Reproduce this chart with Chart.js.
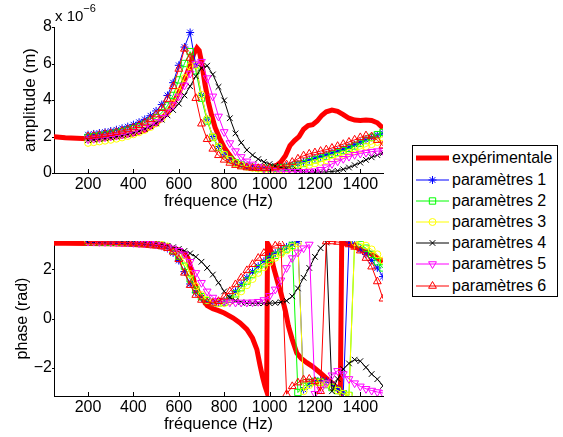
<!DOCTYPE html>
<html lang="fr">
<head>
<meta charset="UTF-8">
<title>Amplitude et phase</title>
<style>
  * { margin: 0; padding: 0; }
  body { width: 563px; height: 437px; overflow: hidden; background: #fff; font-family: "Liberation Sans", Arial, sans-serif; }
  canvas.plot { position: absolute; left: 0; }
  #amp { top: 0; }
  #phase { top: 214px; }
  #legende { position: absolute; left: 412px; top: 145px; width: 144px; height: 150px; border: 1px solid #000; background: #fff; }
  .row { position: absolute; left: 0; width: 144px; height: 20px; line-height: 20px; font-size: 16px; white-space: nowrap; }
  .row canvas { position: absolute; left: 3px; top: 0; }
  .row span { position: absolute; left: 39px; top: 0; }
</style>
</head>
<body>
<canvas id="amp" class="plot" width="400" height="215"></canvas>
<canvas id="phase" class="plot" width="400" height="224"></canvas>
<div id="legende"></div>
<script src="https://cdn.jsdelivr.net/npm/chart.js@4/dist/chart.umd.min.js"></script>
<script>
// frequences des simulations (Hz)
var freqs = [200,225,250,275,300,325,350,375,400,425,450,475,500,525,550,575,600,625,650,675,700,725,750,775,800,825,850,875,900,925,950,975,1000,1025,1050,1075,1100,1125,1150,1175,1200,1225,1250,1275,1300,1325,1350,1375,1400,1425,1450,1475,1500];
var xTicks = [200,400,600,800,1000,1200,1400];

// amplitudes en 1e-6 m
var ampP1 = [2.10,2.14,2.19,2.24,2.30,2.37,2.45,2.54,2.65,2.78,2.94,3.14,3.40,3.75,4.25,4.95,5.90,6.90,7.70,5.90,4.25,2.95,2.00,1.45,1.02,0.75,0.56,0.44,0.36,0.31,0.28,0.27,0.28,0.30,0.33,0.37,0.42,0.50,0.60,0.72,0.82,0.90,1.00,1.10,1.20,1.30,1.42,1.55,1.68,1.82,1.95,2.08,2.18];
var ampP2 = [1.95,1.99,2.03,2.08,2.13,2.19,2.26,2.34,2.43,2.54,2.67,2.83,3.03,3.30,3.68,4.25,5.10,6.00,6.65,5.60,4.10,2.85,1.95,1.40,1.00,0.74,0.56,0.44,0.36,0.31,0.28,0.26,0.26,0.27,0.29,0.32,0.37,0.44,0.52,0.62,0.72,0.82,0.92,1.02,1.12,1.23,1.35,1.48,1.62,1.78,1.95,2.10,2.22];
var ampP3 = [1.65,1.69,1.73,1.77,1.82,1.88,1.95,2.03,2.12,2.23,2.36,2.52,2.72,2.98,3.32,3.80,4.45,5.20,5.85,5.90,4.28,2.95,1.98,1.44,1.00,0.72,0.54,0.42,0.34,0.28,0.24,0.21,0.20,0.20,0.21,0.23,0.27,0.32,0.38,0.45,0.53,0.61,0.70,0.80,0.90,1.00,1.10,1.20,1.32,1.45,1.58,1.70,1.80];
var ampP4 = [1.80,1.83,1.86,1.90,1.94,1.99,2.05,2.12,2.20,2.30,2.42,2.56,2.72,2.92,3.16,3.45,3.80,4.25,4.75,5.30,5.75,5.88,5.40,4.72,3.98,3.00,2.17,1.66,1.26,0.98,0.76,0.61,0.49,0.39,0.30,0.23,0.17,0.12,0.08,0.06,0.05,0.05,0.06,0.08,0.12,0.20,0.30,0.43,0.57,0.72,0.86,0.98,1.10];
var ampP5 = [1.85,1.88,1.92,1.96,2.00,2.05,2.11,2.18,2.26,2.36,2.48,2.62,2.80,3.03,3.33,3.72,4.20,4.80,5.45,6.00,6.10,5.20,4.20,3.10,2.25,1.64,1.20,0.88,0.64,0.47,0.34,0.25,0.18,0.13,0.10,0.08,0.07,0.07,0.07,0.08,0.10,0.18,0.32,0.50,0.64,0.78,0.90,1.00,1.07,1.12,1.17,1.20,1.22];
var ampP6 = [2.00,2.04,2.08,2.13,2.18,2.24,2.31,2.39,2.49,2.61,2.76,2.95,3.20,3.55,4.05,4.75,5.70,6.80,6.30,4.10,2.70,1.85,1.32,0.97,0.72,0.55,0.43,0.35,0.30,0.27,0.26,0.26,0.27,0.30,0.36,0.46,0.60,0.78,0.95,1.05,1.12,1.20,1.28,1.37,1.47,1.58,1.70,1.82,1.95,2.05,2.00,1.80,1.50];

// phases (rad)
var phP1 = [3.12,3.12,3.11,3.11,3.10,3.10,3.09,3.08,3.07,3.06,3.04,3.02,2.98,2.93,2.84,2.66,2.35,1.90,1.40,1.05,0.85,0.72,0.66,0.65,0.70,0.85,1.10,1.38,1.65,1.90,2.12,2.32,2.50,2.65,2.78,2.90,3.00,3.12,-2.88,-2.65,-2.52,-2.50,-2.55,-2.68,-2.85,-3.02,3.10,3.02,2.80,2.60,2.35,2.05,1.70];
var phP2 = [3.12,3.12,3.11,3.11,3.10,3.10,3.09,3.08,3.08,3.07,3.05,3.03,3.00,2.96,2.89,2.75,2.52,2.12,1.60,1.15,0.88,0.72,0.65,0.63,0.66,0.78,1.00,1.25,1.52,1.78,2.02,2.22,2.40,2.56,2.70,2.82,2.96,-3.00,-2.75,-2.60,-2.55,-2.58,-2.68,-2.80,-2.92,-3.05,-3.12,3.08,3.00,2.85,2.60,2.30,2.05];
var phP3 = [3.12,3.12,3.12,3.11,3.11,3.10,3.10,3.09,3.09,3.08,3.06,3.04,3.02,2.98,2.92,2.80,2.62,2.30,1.80,1.30,0.95,0.75,0.66,0.62,0.62,0.70,0.88,1.10,1.35,1.60,1.85,2.08,2.28,2.46,2.62,2.76,2.90,3.05,-2.95,-2.70,-2.60,-2.58,-2.65,-2.78,-2.92,-3.05,-3.12,3.10,3.05,2.95,2.80,2.60,2.35];
var phP4 = [3.12,3.12,3.11,3.11,3.10,3.10,3.09,3.08,3.07,3.06,3.05,3.03,3.01,2.98,2.94,2.89,2.82,2.74,2.64,2.50,2.30,2.05,1.78,1.45,1.10,0.85,0.72,0.66,0.63,0.62,0.62,0.62,0.62,0.63,0.66,0.72,0.90,1.22,1.65,2.05,2.50,2.85,3.08,-2.95,-2.45,-2.05,-1.82,-1.67,-1.73,-1.98,-2.25,-2.46,-2.73];
var phP5 = [3.12,3.12,3.11,3.11,3.10,3.10,3.09,3.08,3.07,3.06,3.05,3.03,3.00,2.96,2.90,2.84,2.75,2.60,2.30,1.85,1.45,1.10,0.85,0.72,0.68,0.66,0.65,0.65,0.65,0.66,0.68,0.75,0.92,1.18,1.55,2.05,2.45,2.68,2.85,3.00,-3.05,-2.88,-2.62,-2.30,-2.12,-2.25,-2.45,-2.62,-2.75,-2.85,-2.92,-2.98,-3.02];
var phP6 = [3.12,3.12,3.11,3.11,3.10,3.09,3.08,3.07,3.06,3.04,3.02,2.99,2.96,2.92,2.85,2.70,2.40,1.85,1.35,0.95,0.75,0.65,0.63,0.70,0.88,1.10,1.38,1.65,1.95,2.20,2.45,2.65,2.82,2.95,3.05,-3.07,-2.75,-2.60,-2.48,-2.45,-2.55,-2.95,3.12,3.12,3.10,3.07,3.00,2.90,2.75,2.45,2.10,1.50,0.80];

// courbe experimentale
var expAmpFreq = [50,100,150,200,250,300,350,400,450,500,550,575,600,625,650,665,680,690,700,715,730,745,760,780,800,820,840,870,900,930,960,990,1010,1030,1050,1070,1090,1110,1130,1150,1170,1190,1210,1230,1250,1275,1300,1325,1350,1375,1400,1425,1450,1475,1500];
var expAmp = [1.98,1.93,1.90,1.88,1.90,1.95,2.03,2.15,2.35,2.70,3.30,3.80,4.40,5.10,5.90,6.50,6.85,6.70,6.10,4.90,3.90,3.15,2.50,1.90,1.40,1.05,0.72,0.48,0.35,0.28,0.24,0.22,0.27,0.40,0.60,0.95,1.50,1.78,2.00,2.40,2.60,2.65,2.85,3.15,3.35,3.45,3.38,3.20,3.00,2.90,2.88,2.90,2.88,2.75,2.45];
var expPhFreq = [50,100,200,300,400,450,500,550,600,625,640,655,670,685,700,725,750,775,800,840,870,900,925,944,958,970,980,987,991,1000,1017,1035,1054,1070,1083,1100,1120,1140,1164,1190,1223,1250,1282,1300,1312,1318,1330,1350,1385,1415,1443,1470,1500];
var expPh = [3.05,3.05,3.04,3.03,3.00,2.97,2.93,2.88,2.78,2.65,2.45,2.00,1.40,1.10,0.85,0.52,0.40,0.32,0.22,0.02,-0.18,-0.44,-0.80,-1.25,-1.90,-2.40,-2.75,-2.94,3.05,2.90,2.10,1.50,0.90,0.30,-0.30,-0.85,-1.40,-1.62,-1.79,-1.95,-2.20,-2.42,-2.67,-2.85,-3.00,3.10,3.05,3.00,2.86,2.75,2.65,2.48,2.30];

var series = [
    { label: 'paramètres 1', color: '#0000ff', marker: 'star', radius: 4, amp: ampP1, ph: phP1 },
    { label: 'paramètres 2', color: '#00ff00', marker: 'rect', radius: 4.5, amp: ampP2, ph: phP2 },
    { label: 'paramètres 3', color: '#ffff00', marker: 'circle', radius: 3.5, amp: ampP3, ph: phP3 },
    { label: 'paramètres 4', color: '#000000', marker: 'crossRot', radius: 4, amp: ampP4, ph: phP4 },
    { label: 'paramètres 5', color: '#ff00ff', marker: 'triangle', radius: 4.5, rotation: 180, amp: ampP5, ph: phP5 },
    { label: 'paramètres 6', color: '#ff0000', marker: 'triangle', radius: 4.5, amp: ampP6, ph: phP6 }
];

Chart.defaults.font.family = '"Liberation Sans", Arial, Helvetica, sans-serif';
Chart.defaults.color = '#000';

function pts(xs, ys) {
    return xs.map(function (x, i) { return { x: x, y: ys[i] }; });
}

function buildDatasets(key, expX, expY) {
    var sets = [{
        label: 'expérimentale', data: pts(expX, expY), borderColor: '#ff0000',
        borderWidth: 5, pointRadius: 0, order: 10
    }];
    series.forEach(function (s, i) {
        sets.push({
            label: s.label, data: pts(freqs, s[key]), borderColor: s.color, borderWidth: 1,
            pointStyle: s.marker, pointRadius: s.radius, pointRotation: s.rotation || 0,
            pointBorderColor: s.color, pointBackgroundColor: 'rgba(0,0,0,0)', pointBorderWidth: 1,
            order: 6 - i
        });
    });
    return sets;
}

// petits traits des graduations, comme matlab
var matlabTicks = {
    id: 'matlabTicks',
    afterDraw: function (chart) {
        var ctx = chart.ctx, a = chart.chartArea, x = chart.scales.x, y = chart.scales.y;
        ctx.save();
        ctx.strokeStyle = '#000';
        ctx.lineWidth = 1;
        ctx.beginPath();
        x.ticks.forEach(function (t) {
            var px = Math.round(x.getPixelForValue(t.value)) + 0.5;
            ctx.moveTo(px, a.bottom); ctx.lineTo(px, a.bottom - 4);
        });
        y.ticks.forEach(function (t) {
            var py = Math.round(y.getPixelForValue(t.value)) + 0.5;
            ctx.moveTo(a.left - 2, py); ctx.lineTo(a.left, py);
        });
        ctx.stroke();
        var exp = chart.options.plugins.matlabTicks;
        if (exp && exp.exposant) {
            ctx.fillStyle = '#000';
            ctx.textBaseline = 'alphabetic';
            ctx.font = '15px "Liberation Sans", Arial, sans-serif';
            ctx.fillText('x 10', 55, 21);
            var w = ctx.measureText('x 10').width;
            ctx.font = '11px "Liberation Sans", Arial, sans-serif';
            ctx.fillText(exp.exposant, 55 + w, 12);
        }
        ctx.restore();
    }
};

function makeOptions(cfg) {
    return {
        responsive: false,
        animation: false,
        devicePixelRatio: 1,
        layout: { padding: { top: 27, right: 17, bottom: 0, left: 0 } },
        elements: { line: { tension: 0 } },
        plugins: {
            legend: { display: false },
            tooltip: { enabled: false },
            matlabTicks: { exposant: cfg.exposant }
        },
        scales: {
            x: {
                type: 'linear', min: 50, max: 1500,
                afterBuildTicks: function (s) { s.ticks = xTicks.map(function (v) { return { value: v }; }); },
                afterFit: function (s) { s.height = 42; },
                grid: { drawOnChartArea: false, drawTicks: false },
                border: { color: '#000', width: 1 },
                ticks: { padding: 2, font: { size: 16 }, callback: function (v) { return String(v); } },
                title: { display: true, text: 'fréquence (Hz)', font: { size: 16.5 }, padding: { top: 0, bottom: 4 } }
            },
            y: {
                type: 'linear', min: cfg.min, max: cfg.max,
                afterBuildTicks: function (s) { s.ticks = cfg.ticks.map(function (v) { return { value: v }; }); },
                afterFit: function (s) { s.width = 54; },
                grid: { drawOnChartArea: false, drawTicks: false },
                border: { color: '#000', width: 1 },
                ticks: {
                    padding: 2, font: { size: 16 },
                    callback: function (v) { return v < 0 ? '\u2212' + Math.abs(v) : String(v); }
                },
                title: { display: true, text: cfg.title, font: { size: cfg.titleSize }, padding: { top: cfg.titlePad, bottom: 0 } }
            }
        }
    };
}

new Chart(document.getElementById('amp'), {
    type: 'line',
    data: { datasets: buildDatasets('amp', expAmpFreq, expAmp) },
    options: makeOptions({ min: 0, max: 8, ticks: [0, 2, 4, 6, 8], title: 'amplitude (m)', titleSize: 17, titlePad: 20.5, exposant: '\u22126' }),
    plugins: [matlabTicks]
});

new Chart(document.getElementById('phase'), {
    type: 'line',
    data: { datasets: buildDatasets('ph', expPhFreq, expPh) },
    options: makeOptions({ min: -Math.PI, max: Math.PI, ticks: [-2, 0, 2], title: 'phase (rad)', titleSize: 16, titlePad: 12.5 }),
    plugins: [matlabTicks]
});

// legende
function drawMarker(ctx, s, x, y) {
    var r = s.radius;
    ctx.beginPath();
    if (s.marker === 'star') {
        ctx.moveTo(x - r, y); ctx.lineTo(x + r, y);
        ctx.moveTo(x, y - r); ctx.lineTo(x, y + r);
        var d = r * Math.SQRT1_2;
        ctx.moveTo(x - d, y - d); ctx.lineTo(x + d, y + d);
        ctx.moveTo(x - d, y + d); ctx.lineTo(x + d, y - d);
    } else if (s.marker === 'crossRot') {
        var c = r * Math.SQRT1_2;
        ctx.moveTo(x - c, y - c); ctx.lineTo(x + c, y + c);
        ctx.moveTo(x - c, y + c); ctx.lineTo(x + c, y - c);
    } else if (s.marker === 'rect') {
        var h = r * Math.SQRT1_2;
        ctx.rect(x - h, y - h, 2 * h, 2 * h);
    } else if (s.marker === 'circle') {
        ctx.arc(x, y, r, 0, Math.PI * 2);
    } else if (s.marker === 'triangle') {
        var rad = (s.rotation || 0) * Math.PI / 180;
        for (var k = 0; k < 3; k++) {
            var px = x + Math.sin(rad) * r, py = y - Math.cos(rad) * r;
            if (k === 0) ctx.moveTo(px, py); else ctx.lineTo(px, py);
            rad += 2 * Math.PI / 3;
        }
        ctx.closePath();
    }
    ctx.stroke();
}

var legende = document.getElementById('legende');
var rows = [{ label: 'expérimentale', color: '#ff0000', thick: true }].concat(series);
rows.forEach(function (s, i) {
    var row = document.createElement('div');
    row.className = 'row';
    row.style.top = (2.3 + i * 21.23) + 'px';
    var cv = document.createElement('canvas');
    cv.width = 33; cv.height = 20;
    var span = document.createElement('span');
    span.textContent = s.label;
    row.appendChild(cv);
    row.appendChild(span);
    legende.appendChild(row);
    var ctx = cv.getContext('2d');
    ctx.strokeStyle = s.color;
    ctx.lineWidth = s.thick ? 5 : 1;
    ctx.beginPath();
    ctx.moveTo(0, 10); ctx.lineTo(33, 10);
    ctx.stroke();
    if (!s.thick) {
        ctx.lineWidth = 1;
        drawMarker(ctx, s, 16.5, 10);
    }
});
</script>
</body>
</html>
